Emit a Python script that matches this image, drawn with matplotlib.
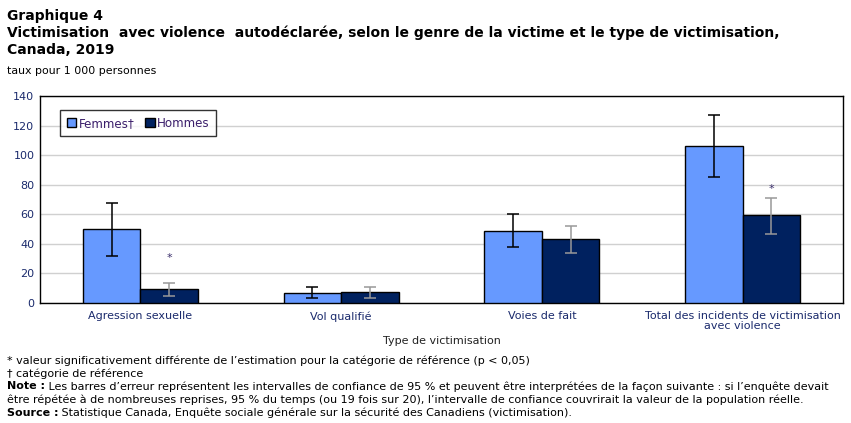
import matplotlib
matplotlib.use("Agg")
import matplotlib.pyplot as plt
import numpy as np

categories = ["Agression sexuelle", "Vol qualifié", "Voies de fait",
              "Total des incidents de victimisation\navec violence"]
femmes = [50, 6.5, 48.5, 106]
femmes_lo = [32, 3.2, 38, 85]
femmes_hi = [67.5, 10.6, 60, 127]
hommes = [9.3, 7.2, 43, 59.3]
hommes_lo = [4.6, 3.2, 33.6, 47]
hommes_hi = [13.3, 10.6, 51.9, 70.8]
hommes_sig = [True, False, False, True]

C_F = "#6699FF"
C_H = "#00215F"
TICK_C = "#1a2a6c"
# vertical gap between the top of the CI and the significance star
star_gap = [14, 0, 0, 3]

fig = plt.figure(figsize=(8.51, 4.23), dpi=100)
ax = fig.add_axes([40 / 851, 1 - 303 / 423, 803 / 851, 207 / 423])

x = np.arange(len(categories))
w = 0.286
f = np.array(femmes)
h = np.array(hommes)
ax.bar(x - w / 2, f, w, color=C_F, edgecolor="black", lw=1, zorder=3,
       label="Femmes\u2020")
ax.bar(x + w / 2, h, w, color=C_H, edgecolor="black", lw=1, zorder=3,
       label="Hommes")
ax.errorbar(x - w / 2, f, yerr=[f - np.array(femmes_lo), np.array(femmes_hi) - f],
            fmt="none", ecolor="black", elinewidth=1.1, capsize=4, capthick=1.1, zorder=4)
ax.errorbar(x + w / 2, h, yerr=[h - np.array(hommes_lo), np.array(hommes_hi) - h],
            fmt="none", ecolor="#999999", elinewidth=1.1, capsize=4, capthick=1.1, zorder=4)
for xi, hi, sig, gap in zip(x, hommes_hi, hommes_sig, star_gap):
    if sig:
        ax.text(xi + w / 2, hi + gap, "*", ha="center", va="bottom",
                fontsize=8, color="#3b2f6b")

ax.set_xlim(-0.5, len(categories) - 0.5)
ax.set_ylim(0, 140)
ax.set_yticks(range(0, 141, 20))
ax.yaxis.grid(True, color="#d0d0d0", lw=1, zorder=0)
ax.set_axisbelow(True)
ax.tick_params(axis="both", length=0, labelsize=8, colors=TICK_C, pad=6)
ax.tick_params(axis="y", pad=4)
ax.set_xticks(x)
ax.set_xticklabels(categories, linespacing=1.0)
for s in ax.spines.values():
    s.set_color("black")
    s.set_linewidth(1)
ax.set_xlabel("Type de victimisation", fontsize=8, color="#222222", labelpad=3)

leg = ax.legend(loc="upper left", bbox_to_anchor=(0.025, 0.932), ncol=2,
                fontsize=8.6, frameon=True, fancybox=False, edgecolor="black",
                handlelength=0.8, handleheight=0.8, handletextpad=0.2,
                columnspacing=0.9, borderpad=0.55, borderaxespad=0)
leg.get_frame().set_linewidth(1)
for t in leg.get_texts():
    t.set_color("#3b1f6b")

fig.text(7 / 851, 1 - 9 / 423, "Graphique 4", fontsize=10, fontweight="bold",
         va="top")
fig.text(7 / 851, 1 - 25 / 423,
         "Victimisation  avec violence  autodéclarée, selon le genre de la victime et le type de victimisation,\nCanada, 2019",
         fontsize=10, fontweight="bold", va="top", linespacing=1.3)
fig.text(7 / 851, 1 - 66 / 423, "taux pour 1 000 personnes", fontsize=7.9, va="top")

notes = [
    ("", "* valeur significativement différente de l\u2019estimation pour la catégorie de référence (p < 0,05)"),
    ("", "\u2020 catégorie de référence"),
    ("Note :", " Les barres d\u2019erreur représentent les intervalles de confiance de 95 % et peuvent être interprétées de la façon suivante : si l\u2019enquête devait"),
    ("", "être répétée à de nombreuses reprises, 95 % du temps (ou 19 fois sur 20), l\u2019intervalle de confiance couvrirait la valeur de la population réelle."),
    ("Source :", " Statistique Canada, Enquête sociale générale sur la sécurité des Canadiens (victimisation)."),
]
y0 = 355
fig.canvas.draw()
r = fig.canvas.get_renderer()
for i, (b, t) in enumerate(notes):
    yy = 1 - (y0 + i * 13.2) / 423
    xx = 7 / 851
    if b:
        bt = fig.text(xx, yy, b, fontsize=8.05, fontweight="bold", va="top")
        bb = bt.get_window_extent(r)
        xx = bb.x1 / fig.bbox.width
    fig.text(xx, yy, t, fontsize=8.05, va="top")

fig.savefig("out.png", dpi=100)
